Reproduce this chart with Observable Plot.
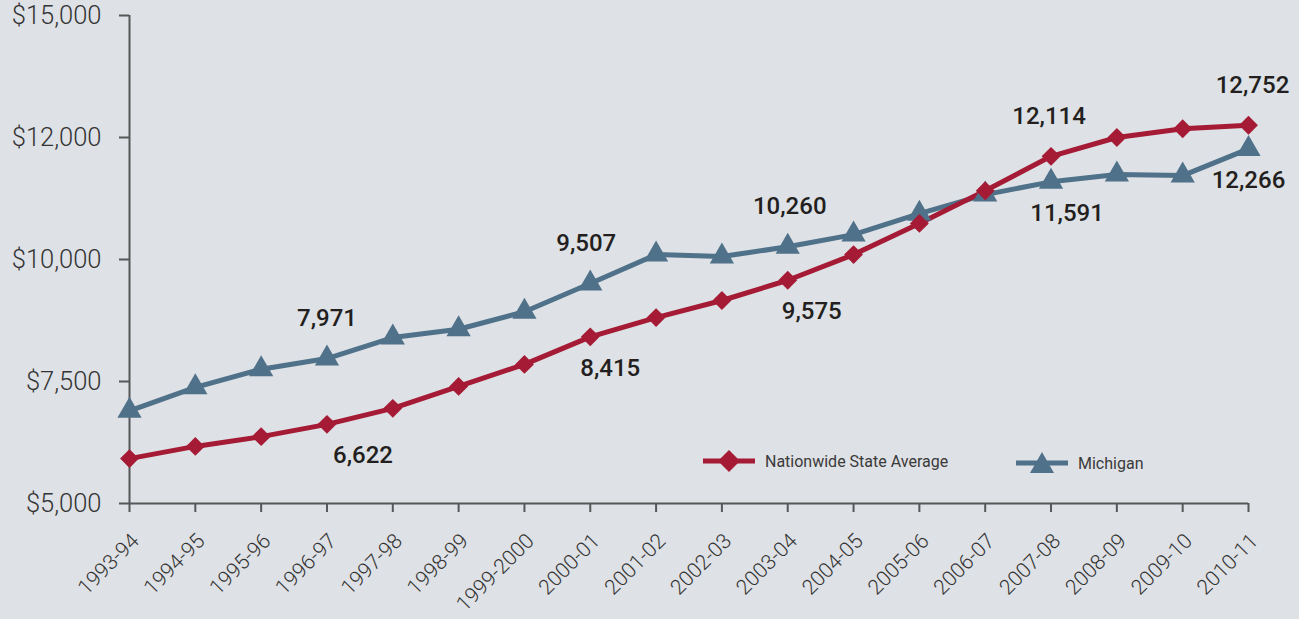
<!DOCTYPE html>
<html>
<head>
<meta charset="utf-8">
<script src="https://cdn.jsdelivr.net/npm/d3@7"></script>
<script src="https://cdn.jsdelivr.net/npm/@observablehq/plot@0.6"></script>
<style>
  html, body { margin: 0; padding: 0; background: #dee1e5; }
  #wrap { position: relative; width: 1299px; height: 619px; overflow: hidden; }
  #legend { position: absolute; left: 0; top: 0; font-family: Roboto, sans-serif; font-size: 16px; color: #3a3a3a; }
  .item { position: absolute; display: flex; align-items: center; white-space: nowrap; }
  .item svg { margin-right: 10px; }
  .yax text { font-weight: 300; }
  .xax text { font-weight: 300; }
</style>
</head>
<body>
<div id="wrap"><div id="legend"></div></div>
<script>
const years = ["1993-94","1994-95","1995-96","1996-97","1997-98","1998-99","1999-2000","2000-01","2001-02","2002-03","2003-04","2004-05","2005-06","2006-07","2007-08","2008-09","2009-10","2010-11"];
const nationwide = [5920, 6170, 6370, 6622, 6950, 7400, 7850, 8415, 8810, 9160, 9575, 10100, 10740, 11410, 12114, 12500, 12680, 12752];
const michigan = [6900, 7380, 7750, 7971, 8400, 8570, 8930, 9507, 10100, 10060, 10260, 10510, 10940, 11330, 11591, 11740, 11720, 12266];
const yTicks = [5000, 7500, 10000, 12500, 15000];
const yTickLabels = ["$5,000", "$7,500", "$10,000", "$12,000", "$15,000"];
const seriesNames = ["Nationwide State Average", "Michigan"];
const labelsNation = [
  {year: "1996-97", value: 6622, text: "6,622", pos: "below", dx: 36},
  {year: "2000-01", value: 8415, text: "8,415", pos: "below", dx: 20},
  {year: "2003-04", value: 9575, text: "9,575", pos: "below", dx: 24},
  {year: "2007-08", value: 12114, text: "12,114", pos: "above", dx: -2},
  {year: "2010-11", value: 12752, text: "12,752", pos: "above", dx: 4}
];
const labelsMich = [
  {year: "1996-97", value: 7971, text: "7,971", pos: "above", dx: 0},
  {year: "2000-01", value: 9507, text: "9,507", pos: "above", dx: -4},
  {year: "2003-04", value: 10260, text: "10,260", pos: "above", dx: 2},
  {year: "2007-08", value: 11591, text: "11,591", pos: "below", dx: 16},
  {year: "2010-11", value: 12266, text: "12,266", pos: "below", dx: 0}
];

const RED = "#a51b35";
const BLUE = "#4f7189";
const AX = "#555759";

const nData = years.map((y, i) => ({year: y, value: nationwide[i]}));
const mData = years.map((y, i) => ({year: y, value: michigan[i]}));

const labelMarks = [...labelsNation, ...labelsMich].map(d =>
  Plot.text([d], {x: "year", y: "value", text: "text", dx: d.dx, dy: d.pos === "above" ? -40 : 31,
    fontSize: 24, fontWeight: 500, fill: "#231f20", fontFamily: "Roboto, sans-serif"})
);

const chart = Plot.plot({
  width: 1299,
  height: 619,
  marginLeft: 129,
  marginRight: 51,
  marginTop: 15,
  marginBottom: 116,
  style: {background: "#dee1e5", fontFamily: "Roboto, sans-serif", overflow: "visible"},
  x: {type: "point", domain: years, padding: 0, round: false},
  y: {domain: [5000, 15000]},
  marks: [
    Plot.axisY({ticks: yTicks, tickFormat: (d) => yTickLabels[yTicks.indexOf(d)], tickSize: 10, tickPadding: 18, fontSize: 25.5, stroke: AX, strokeWidth: 2, fill: "#333", label: null, className: "yax"}),
    Plot.axisX({tickSize: 9, tickFormat: null, text: null, stroke: AX, strokeWidth: 2, label: null}),
    Plot.axisX({tickSize: 0, tickRotate: -45, tickPadding: 34, fontSize: 21, fill: "#333", label: null, className: "xax", dx: 6}),
    Plot.ruleX([years[0]], {stroke: AX, strokeWidth: 2}),
    Plot.ruleY([5000], {stroke: AX, strokeWidth: 2}),
    Plot.line(mData, {x: "year", y: "value", stroke: BLUE, strokeWidth: 5}),
    Plot.line(nData, {x: "year", y: "value", stroke: RED, strokeWidth: 5}),
    Plot.dot(mData, {x: "year", y: "value", symbol: "triangle", r: 9, fill: BLUE}),
    Plot.dot(nData, {x: "year", y: "value", symbol: "diamond2", r: 8.5, fill: RED}),
    ...labelMarks
  ]
});
document.getElementById("wrap").prepend(chart);

// Legend (HTML overlay)
const legend = document.getElementById("legend");
const items = [
  {name: seriesNames[0], color: RED, shape: "diamond", left: 703, top: 449},
  {name: seriesNames[1], color: BLUE, shape: "triangle", left: 1016, top: 451}
];
for (const it of items) {
  const div = document.createElement("div");
  div.className = "item";
  div.style.left = it.left + "px";
  div.style.top = it.top + "px";
  const shape = it.shape === "diamond"
    ? `<path d="M26,1 L37,12 L26,23 L15,12 Z" fill="${it.color}"/>`
    : `<path d="M26,1 L38,22 L14,22 Z" fill="${it.color}"/>`;
  div.innerHTML = `<svg width="52" height="24"><line x1="0" x2="52" y1="12" y2="12" stroke="${it.color}" stroke-width="5"/>${shape}</svg><span>${it.name}</span>`;
  legend.appendChild(div);
}
</script>
</body>
</html>
